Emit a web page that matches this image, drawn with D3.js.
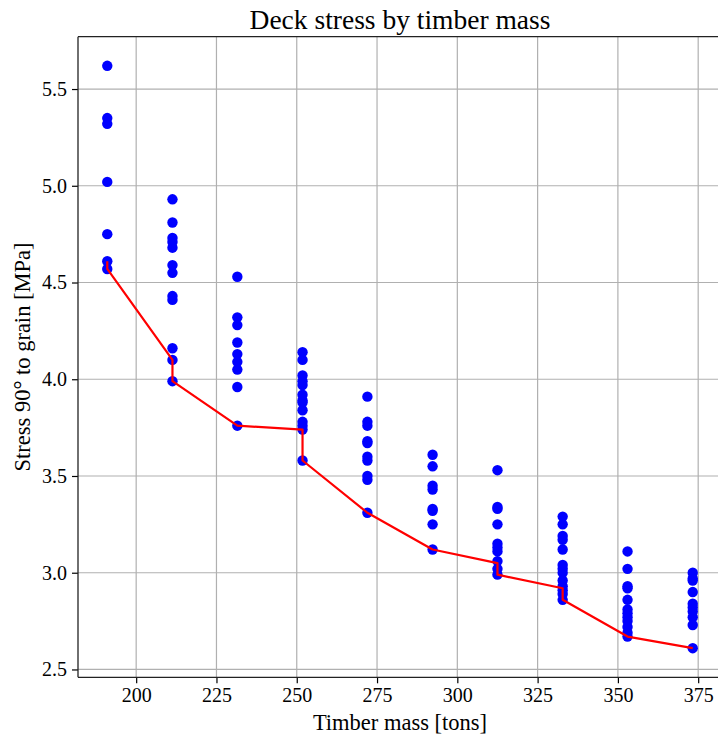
<!DOCTYPE html>
<html>
<head>
<meta charset="utf-8">
<script src="https://cdn.jsdelivr.net/npm/d3@7"></script>
<style>
  html, body { margin: 0; padding: 0; background: #fff; }
  svg text { font-family: 'Liberation Serif', 'Times New Roman', serif !important; fill: #000; }
</style>
</head>
<body>
<svg id="chart" width="718" height="735"></svg>
<script>
// ---- data ----
const masses = [191.0, 211.3, 231.5, 251.8, 272.0, 292.3, 312.5, 332.8, 353.0, 373.3];
const stress191 = [5.62, 5.35, 5.32, 5.02, 4.75, 4.61, 4.57];
const stress211 = [4.93, 4.81, 4.73, 4.71, 4.68, 4.59, 4.55, 4.43, 4.41, 4.16, 4.10, 3.99];
const stress232 = [4.53, 4.32, 4.28, 4.19, 4.13, 4.09, 4.05, 3.96, 3.76];
const stress252 = [4.14, 4.10, 4.02, 3.99, 3.97, 3.92, 3.89, 3.88, 3.84, 3.78, 3.76, 3.74, 3.58];
const stress272 = [3.91, 3.78, 3.76, 3.68, 3.67, 3.60, 3.58, 3.50, 3.48, 3.31];
const stress292 = [3.61, 3.55, 3.45, 3.43, 3.33, 3.32, 3.25, 3.12];
const stress313 = [3.53, 3.34, 3.33, 3.25, 3.15, 3.13, 3.11, 3.06, 3.02, 2.99];
const stress333 = [3.29, 3.25, 3.19, 3.17, 3.12, 3.04, 3.02, 3.00, 2.96, 2.93, 2.91, 2.89, 2.86];
const stress353 = [3.11, 3.02, 2.93, 2.92, 2.86, 2.81, 2.79, 2.77, 2.75, 2.72, 2.69, 2.67];
const stress373 = [3.00, 2.97, 2.96, 2.90, 2.84, 2.82, 2.80, 2.77, 2.73, 2.61];
const stressByMass = [stress191, stress211, stress232, stress252, stress272,
                      stress292, stress313, stress333, stress353, stress373];

const frontMass   = [191.0, 191.0, 211.3, 211.3, 231.5, 251.8, 251.8, 272.0, 292.3, 312.5, 312.5, 332.8, 332.8, 353.0, 373.3];
const frontStress = [4.61, 4.57, 4.10, 3.99, 3.76, 3.74, 3.58, 3.31, 3.12, 3.05, 2.99, 2.92, 2.86, 2.67, 2.61];

const xTicks = [200, 225, 250, 275, 300, 325, 350, 375];
const yTicks = [2.5, 3.0, 3.5, 4.0, 4.5, 5.0, 5.5];

const titleText = "Deck stress by timber mass";
const xLabelText = "Timber mass [tons]";
const yLabelText = "Stress 90\u00B0 to grain [MPa]";

// ---- layout ----
const W = 718, H = 735;
const pLeft = 78, pRight = 722, pTop = 36.7, pBottom = 677.3;
const SERIF = "'Liberation Serif', 'Times New Roman', serif";

const points = [];
masses.forEach((m, i) => stressByMass[i].forEach(s => points.push({m, s})));

function padded(ext) { const r = ext[1] - ext[0]; return [ext[0] - 0.05 * r, ext[1] + 0.05 * r]; }
const x = d3.scaleLinear().domain(padded(d3.extent(points, d => d.m))).range([pLeft, pRight]);
const y = d3.scaleLinear().domain(padded(d3.extent(points, d => d.s))).range([pBottom, pTop]);

const svg = d3.select("#chart");
svg.append("rect").attr("width", W).attr("height", H).attr("fill", "#fff");

const defs = svg.append("defs");
defs.append("clipPath").attr("id", "plotclip").append("rect")
  .attr("x", pLeft).attr("y", pTop).attr("width", pRight - pLeft).attr("height", pBottom - pTop);

// grid
const grid = svg.append("g").attr("clip-path", "url(#plotclip)");
grid.selectAll("line.gx").data(xTicks).join("line").attr("class", "gx")
  .attr("x1", d => x(d)).attr("x2", d => x(d)).attr("y1", pTop).attr("y2", pBottom)
  .attr("stroke", "#b0b0b0").attr("stroke-width", 1.2);
grid.selectAll("line.gy").data(yTicks).join("line").attr("class", "gy")
  .attr("x1", pLeft).attr("x2", pRight).attr("y1", d => y(d)).attr("y2", d => y(d))
  .attr("stroke", "#b0b0b0").attr("stroke-width", 1.2);

// scatter
const plot = svg.append("g").attr("clip-path", "url(#plotclip)");
plot.selectAll("circle").data(points).join("circle")
  .attr("cx", d => x(d.m)).attr("cy", d => y(d.s)).attr("r", 5.2)
  .attr("fill", "#0000ff");

// front line
const line = d3.line().x(d => x(d[0])).y(d => y(d[1]));
plot.append("path").datum(frontMass.map((m, i) => [m, frontStress[i]]))
  .attr("d", line).attr("fill", "none").attr("stroke", "#ff0000")
  .attr("stroke-width", 2.2).attr("stroke-linejoin", "round");

// axes
const xAxis = d3.axisBottom(x).tickValues(xTicks).tickSize(6).tickPadding(5).tickFormat(d3.format("d"));
const yAxis = d3.axisLeft(y).tickValues(yTicks).tickSize(6).tickPadding(5).tickFormat(d3.format(".1f"));

const gx = svg.append("g").attr("transform", `translate(0,${pBottom})`).call(xAxis);
const gy = svg.append("g").attr("transform", `translate(${pLeft},0)`).call(yAxis);
[gx, gy].forEach(g => {
  g.attr("font-family", null).attr("font-size", null);
  g.select(".domain").remove();
  g.selectAll(".tick line").attr("stroke", "#000").attr("stroke-width", 1.2);
  g.selectAll(".tick text").style("font-family", SERIF).style("font-size", "20px").attr("fill", "#000");
});

// spines (right one lies beyond the image edge)
const sp = svg.append("g").attr("stroke", "#222").attr("stroke-width", 1.3).attr("fill", "none");
sp.append("line").attr("x1", pLeft).attr("x2", pLeft).attr("y1", pTop).attr("y2", pBottom);
sp.append("line").attr("x1", pLeft).attr("x2", pRight).attr("y1", pBottom).attr("y2", pBottom);
sp.append("line").attr("x1", pLeft).attr("x2", pRight).attr("y1", pTop).attr("y2", pTop);
sp.append("line").attr("x1", pRight).attr("x2", pRight).attr("y1", pTop).attr("y2", pBottom);

// texts
svg.append("text").attr("x", (pLeft + pRight) / 2).attr("y", 29.3)
  .attr("text-anchor", "middle").style("font-family", SERIF).style("font-size", "27.5px").text(titleText);
svg.append("text").attr("x", (pLeft + pRight) / 2).attr("y", 730)
  .attr("text-anchor", "middle").style("font-family", SERIF).style("font-size", "22.5px").text(xLabelText);
svg.append("text").attr("transform", `translate(30,${(pTop + pBottom) / 2}) rotate(-90)`)
  .attr("text-anchor", "middle").style("font-family", SERIF).style("font-size", "22.5px").text(yLabelText);
</script>
</body>
</html>
